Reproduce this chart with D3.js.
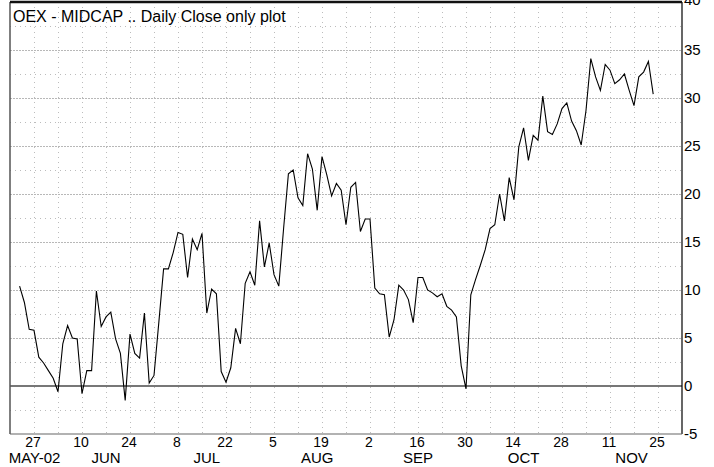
<!DOCTYPE html>
<html>
<head>
<meta charset="utf-8">
<script src="https://cdn.jsdelivr.net/npm/d3@7"></script>
<style>
  body { margin: 0; background: #fff; }
  svg { display: block; font-family: "Liberation Sans", Arial, sans-serif; }
</style>
</head>
<body>
<svg id="chart" width="714" height="467"></svg>
<script>
// daily closes, one per weekday from Wed 22 May 2002 (holidays repeat previous close)
const firstDay = '2002-05-22'
const closes = [
  10.4, 8.7, 5.9, 5.8, 3.0, 2.4, 1.6, 0.8, -0.6, 4.4,
  6.3, 5.0, 4.9, -0.8, 1.6, 1.6, 9.9, 6.2, 7.2, 7.7,
  4.9, 3.4, -1.5, 5.4, 3.4, 2.9, 7.6, 0.3, 1.1, 6.6,
  12.2, 12.2, 13.9, 16.0, 15.8, 11.3, 15.3, 14.2, 15.9, 7.6,
  10.1, 9.6, 1.5, 0.4, 1.9, 6.0, 4.4, 10.7, 11.9, 10.5,
  17.2, 12.4, 14.9, 11.6, 10.4, 16.4, 22.1, 22.5, 19.6, 18.8,
  24.2, 22.6, 18.3, 23.9, 22.0, 19.8, 21.1, 20.4, 16.8, 20.7,
  21.2, 16.1, 17.4, 17.4, 10.2, 9.6, 9.5, 5.1, 6.9, 10.5,
  10.0, 9.0, 6.6, 11.3, 11.3, 10.0, 9.7, 9.3, 9.6, 8.3,
  7.9, 7.2, 2.1, -0.3, 9.5, 11.1, 12.6, 14.2, 16.4, 16.8,
  20.0, 17.2, 21.7, 19.4, 24.9, 26.9, 23.5, 26.1, 25.6, 30.2,
  26.5, 26.2, 27.3, 28.9, 29.5, 27.6, 26.6, 25.1, 28.7, 34.1,
  32.2, 30.8, 33.5, 32.9, 31.5, 31.9, 32.5, 30.8, 29.2, 32.2,
  32.7, 33.8, 30.4
]

const dayTicks = ['2002-05-27', '2002-06-10', '2002-06-24', '2002-07-08', '2002-07-22',
  '2002-08-05', '2002-08-19', '2002-09-02', '2002-09-16', '2002-09-30',
  '2002-10-14', '2002-10-28', '2002-11-11', '2002-11-25']
const monthStarts = ['2002-05-01', '2002-06-01', '2002-07-01', '2002-08-01', '2002-09-01', '2002-10-01', '2002-11-01']
const monthNames = ['MAY-02', 'JUN', 'JUL', 'AUG', 'SEP', 'OCT', 'NOV']
const yTicks = [-5, 0, 5, 10, 15, 20, 25, 30, 35, 40]

const parse = d3.utcParse('%Y-%m-%d')
const base = parse('2002-05-27')

// weekday count from the base Monday (weekends squeezed out)
const wd = date => {
    const d = Math.round((date - base) / 864e5)
    const w = Math.floor(d / 7)
    return w * 5 + Math.min(d - w * 7, 5)
}

const svg = d3.select('#chart')

const pLeft = 10, pRight = 682, pTop = 2, pBottom = 434

const x = d3.scaleLinear().domain([-5, 135]).range([pLeft, pRight])
const y = d3.scaleLinear().domain([-5, 40]).range([pBottom, pTop])

// series positions
const start = wd(parse(firstDay))
const series = closes.map((v, i) => ({ i: start + i, v }))

// grid
const grid = svg.append('g')

const weeks = d3.range(0, 27)
grid.selectAll('line.vg')
    .data(weeks)
    .enter().append('line')
    .attr('x1', k => Math.round(x(k * 5)) + 0.5).attr('x2', k => Math.round(x(k * 5)) + 0.5)
    .attr('y1', pTop).attr('y2', pBottom)
    .attr('stroke', '#bcbcbc')
    .attr('stroke-dasharray', '1,4')

const minor = d3.range(-2.5, 40, 5)
grid.selectAll('line.mg')
    .data(minor)
    .enter().append('line')
    .attr('x1', pLeft).attr('x2', pRight)
    .attr('y1', d => Math.round(y(d)) + 0.5).attr('y2', d => Math.round(y(d)) + 0.5)
    .attr('stroke', '#bcbcbc')
    .attr('stroke-dasharray', '1,4')

const major = yTicks.filter(d => d > -5 && d < 40 && d !== 0)
grid.selectAll('line.hg')
    .data(major)
    .enter().append('line')
    .attr('x1', pLeft).attr('x2', pRight)
    .attr('y1', d => Math.round(y(d)) + 0.5).attr('y2', d => Math.round(y(d)) + 0.5)
    .attr('stroke', '#b8b8b8')
    .attr('stroke-dasharray', '2,1')

// zero line
svg.append('line')
    .attr('x1', pLeft).attr('x2', pRight)
    .attr('y1', y(0)).attr('y2', y(0))
    .attr('stroke', '#777')
    .attr('stroke-width', 2)

// frame
svg.append('line').attr('x1', pLeft).attr('x2', pLeft).attr('y1', pTop).attr('y2', pBottom)
    .attr('stroke', '#555').attr('stroke-width', 1.5)
svg.append('line').attr('x1', pRight).attr('x2', pRight).attr('y1', pTop).attr('y2', pBottom)
    .attr('stroke', '#000').attr('stroke-width', 1.2)
svg.append('line').attr('x1', pLeft).attr('x2', pRight).attr('y1', pBottom).attr('y2', pBottom)
    .attr('stroke', '#666').attr('stroke-width', 1.2)
svg.append('line').attr('x1', pLeft).attr('x2', pRight).attr('y1', pTop).attr('y2', pTop)
    .attr('stroke', '#111').attr('stroke-width', 2.5)

// the line
const line = d3.line().x(d => x(d.i)).y(d => y(d.v))
svg.append('path')
    .datum(series)
    .attr('d', line)
    .attr('fill', 'none')
    .attr('stroke', '#000')
    .attr('stroke-width', 1.1)

// right axis labels (top one sits on the frame and is clipped, as in the original)
svg.selectAll('text.yl')
    .data(yTicks)
    .enter().append('text')
    .attr('x', 684)
    .attr('y', d => y(d))
    .attr('dy', d => d === 40 ? '0.2em' : '0.36em')
    .attr('font-size', 15)
    .text(d => d)

// bottom day labels
svg.selectAll('text.dl')
    .data(dayTicks)
    .enter().append('text')
    .attr('x', d => x(wd(parse(d))) - 1)
    .attr('y', 447)
    .attr('text-anchor', 'middle')
    .attr('font-size', 14)
    .text(d => parse(d).getUTCDate())

// month labels centred on their span
const monthCenter = (s, k) => {
    const a = Math.max(wd(parse(s)), -5)
    const next = k + 1 < monthStarts.length ? parse(monthStarts[k + 1]) : parse('2002-12-01')
    const b = Math.min(wd(d3.utcDay.offset(next, -1)), 135)
    return x((a + b) / 2)
}
svg.selectAll('text.ml')
    .data(monthStarts)
    .enter().append('text')
    .attr('x', (d, k) => monthCenter(d, k) + (k === 0 ? 3 : 0))
    .attr('y', 463)
    .attr('text-anchor', 'middle')
    .attr('font-size', 15)
    .text((d, k) => monthNames[k])

// title
svg.append('text')
    .attr('x', 13)
    .attr('y', 22)
    .attr('font-size', 16)
    .text('OEX - MIDCAP .. Daily Close only plot')
</script>
</body>
</html>
